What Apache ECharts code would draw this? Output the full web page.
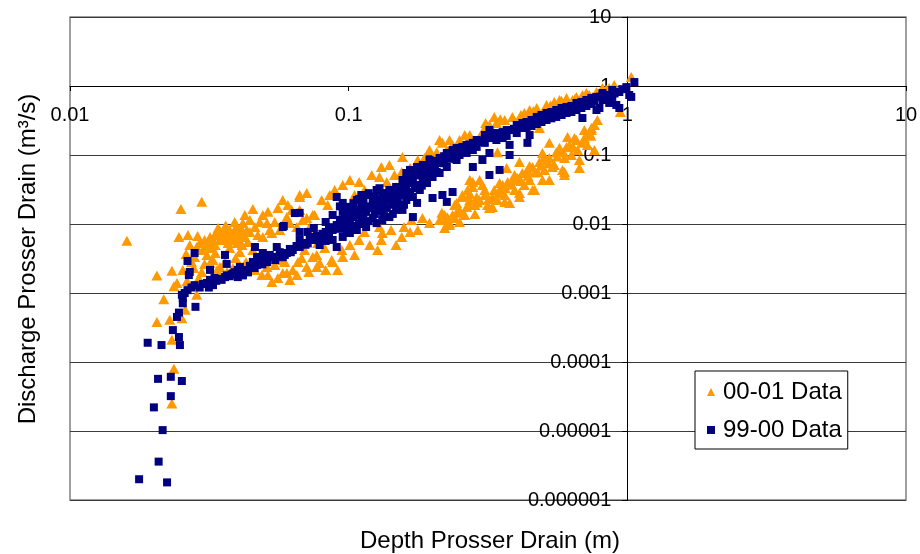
<!DOCTYPE html>
<html>
<head>
<meta charset="utf-8">
<script src="https://cdn.jsdelivr.net/npm/echarts@6/dist/echarts.min.js"></script>
<style>
html,body{margin:0;padding:0;background:#fff;}
#chart{width:920px;height:554px;}
</style>
</head>
<body>
<div id="chart"></div>
<script>
// ---- Data ----
const seriesNames = ['00-01 Data', '99-00 Data'];

const xTickValues = [0.01, 0.1, 1, 10];
const xTickLabels = ['0.01', '0.1', '1', '10'];
const yTickValues = [0.000001, 0.00001, 0.0001, 0.001, 0.01, 0.1, 1, 10];
const yTickLabels = ['0.000001', '0.00001', '0.0001', '0.001', '0.01', '0.1', '1', '10'];

const xTitle = 'Depth Prosser Drain (m)';
const yTitle = 'Discharge Prosser Drain (m³/s)';

// 00-01 Data (orange triangles): [depth m, discharge m3/s]
const data0001 = [
  [0.0160,0.0057],[0.0250,0.0165],[0.0297,0.021],[0.0246,0.0065],[0.0265,0.0069],[0.0205,0.0018],
  [0.0232,0.0021],[0.0242,0.0014],[0.0236,0.00125],[0.0217,0.00081],[0.0205,0.00038],[0.0228,0.00041],
  [0.0252,0.00043],[0.0232,0.00021],[0.0236,0.00008],[0.0232,0.000025],[0.0259,0.00057],[0.0285,0.00094],
  [0.0254,0.00216],[0.0273,0.00282],[0.0285,0.00464],[0.0292,0.00530],[0.0280,0.00333],[0.0300,0.00420],
  [0.0310,0.00356],[0.0297,0.00202],[0.0318,0.00272],[0.0326,0.00301],[0.0337,0.00216],[0.0345,0.00239],
  [0.0366,0.00202],[0.0384,0.00231],[0.0407,0.00239],[0.0326,0.00587],[0.0318,0.00649],[0.0337,0.00741],
  [0.0345,0.00587],[0.0354,0.00767],[0.0366,0.00649],[0.0374,0.00819],[0.0384,0.00587],[0.0397,0.00905],
  [0.0407,0.00693],[0.0417,0.0103],[0.0431,0.00819],[0.0397,0.00530],[0.0374,0.00449],[0.0407,0.00393],
  [0.0390,0.0107],[0.0453,0.0165],[0.0492,0.0135],[0.0461,0.00905],[0.0509,0.0103],[0.0530,0.00741],
  [0.0492,0.00649],[0.0580,0.0223],[0.0557,0.0171],[0.0600,0.0126],[0.0667,0.0263],[0.0707,0.0281],
  [0.0684,0.0114],[0.0652,0.00905],[0.0725,0.00905],[0.0743,0.0135],[0.0453,0.00420],[0.0480,0.00333],
  [0.0509,0.00239],[0.0530,0.00144],[0.0580,0.00195],[0.0630,0.00216],[0.0652,0.00182],[0.0678,0.00322],
  [0.0707,0.00239],[0.0743,0.00333],[0.0768,0.00239],
  [0.0304,0.00587],[0.0332,0.00496],[0.0351,0.00627],[0.0369,0.00530],[0.0380,0.00693],[0.0424,0.00649],
  [0.0442,0.00767],[0.0360,0.00876],[0.0340,0.00876],[0.0323,0.00449],[0.0312,0.00480],[0.0435,0.00549],
  [0.0414,0.00496],[0.0393,0.00767],[0.0472,0.00693],[0.0480,0.0107],[0.0442,0.0114],[0.0424,0.0135],
  [0.0513,0.0150],[0.0543,0.0107],[0.0566,0.00819],[0.0615,0.0103],[0.0625,0.0160],[0.0605,0.0189],
  [0.0521,0.00819],[0.0287,0.00670],[0.0269,0.00496],[0.0261,0.00368],[0.0278,0.00231],[0.0290,0.00165],
  [0.0304,0.00264],[0.0263,0.00149],[0.0332,0.00380],[0.0360,0.00282],[0.0393,0.00322],[0.0428,0.00282],
  [0.0461,0.00216],[0.0488,0.00182],[0.0543,0.00255],[0.0590,0.00282],[0.0615,0.00154],[0.0557,0.00165],
  [0.0513,0.00182],[0.0657,0.00282],[0.0695,0.00420],[0.0719,0.00202],
  [0.0330,0.0068],[0.0350,0.0071],[0.0358,0.0060],[0.0372,0.0075],[0.0388,0.0080],[0.0400,0.0062],
  [0.0412,0.0085],[0.0345,0.0080],[0.0362,0.0095],[0.0315,0.0055],
  [0.0667,0.0246],[0.0952,0.0368],[0.101,0.0434],[0.121,0.0513],[0.129,0.0480],[0.131,0.0670],
  [0.140,0.0716],[0.137,0.0406],[0.148,0.0344],[0.155,0.0568],[0.156,0.0936],[0.217,0.150],
  [0.0755,0.0135],[0.0707,0.0122],[0.0667,0.0160],[0.0743,0.00649],[0.0707,0.00530],[0.0787,0.00272],
  [0.0869,0.00301],[0.0952,0.00333],[0.0945,0.00420],[0.127,0.00420],[0.131,0.00587],[0.132,0.00741],
  [0.155,0.00649],[0.158,0.00905],[0.177,0.00819],[0.184,0.0122],[0.195,0.0103],[0.177,0.0847],
  [0.207,0.110],[0.236,0.140],[0.265,0.150],[0.295,0.182],[0.313,0.208],[0.320,0.272],
  [0.339,0.291],[0.342,0.110],[0.129,0.00905],[0.0876,0.00282],[0.0768,0.00356],[0.0600,0.00195],
  [0.0580,0.00301],[0.0566,0.00420],
  [0.0800,0.0223],[0.0855,0.0263],[0.0891,0.0311],[0.0841,0.0189],[0.109,0.0406],[0.114,0.0311],
  [0.105,0.0263],[0.146,0.0513],[0.166,0.0648],[0.172,0.0513],[0.187,0.0905],[0.195,0.118],
  [0.225,0.118],[0.250,0.165],[0.272,0.195],[0.284,0.140],[0.101,0.00496],[0.109,0.00587],
  [0.105,0.00356],[0.114,0.00767],[0.119,0.00496],[0.142,0.00819],[0.148,0.00496],[0.166,0.00767],
  [0.168,0.0114],[0.0820,0.00449],[0.0774,0.00530],[0.0913,0.00216],[0.0827,0.00216],
  [0.212,0.0114],[0.230,0.0103],[0.244,0.0145],[0.265,0.0177],[0.295,0.0223],[0.328,0.0246],
  [0.348,0.0311],[0.387,0.0434],[0.420,0.0548],[0.457,0.0670],[0.513,0.0847],[0.556,0.110],
  [0.605,0.131],[0.657,0.165],[0.731,0.208],[0.762,0.272],[0.673,0.0847],[0.585,0.0607],
  [0.538,0.0670],[0.496,0.0434],[0.457,0.0311],[0.410,0.0281],[0.378,0.0202],[0.328,0.0177],
  [0.279,0.0344],[0.272,0.0434],[0.295,0.0434],[0.525,0.150],[0.496,0.107],[0.216,0.0145],
  [0.225,0.0114],[0.230,0.00967],[0.244,0.0202],[0.256,0.0246],[0.267,0.0311],[0.279,0.0406],
  [0.288,0.0246],[0.236,0.0135],
  [0.221,0.0135],[0.240,0.0122],[0.250,0.0160],[0.261,0.0135],[0.272,0.0223],[0.284,0.0189],
  [0.308,0.0263],[0.315,0.0189],[0.333,0.0311],[0.342,0.0223],[0.357,0.0368],[0.363,0.0263],
  [0.372,0.0406],[0.394,0.0311],[0.404,0.0464],[0.427,0.0368],[0.438,0.0607],[0.446,0.0434],
  [0.476,0.0568],[0.484,0.0792],[0.504,0.0607],[0.525,0.0905],[0.547,0.0716],[0.571,0.118],
  [0.595,0.0905],[0.620,0.140],[0.630,0.100],[0.663,0.118],[0.701,0.176],[0.719,0.140],
  [0.743,0.246],[0.781,0.322],
  [0.226,0.0125],[0.248,0.0150],[0.270,0.0190],[0.290,0.0205],[0.318,0.0230],[0.345,0.0280],
  [0.365,0.0330],[0.385,0.0370],[0.415,0.0420],[0.440,0.0500],[0.465,0.0560],[0.490,0.0700],
  [0.520,0.0750],[0.560,0.0950],[0.590,0.1100],[0.640,0.1300],[0.690,0.1500],[0.740,0.1900],
  [0.221,0.00876],[0.250,0.0107],[0.284,0.0140],[0.320,0.0171],[0.363,0.0209],[0.410,0.0246],
  [0.465,0.0311],[0.525,0.0434],[0.595,0.0513],[0.673,0.0648],[0.762,0.118],
  [0.240,0.0189],[0.272,0.0272],[0.308,0.0311],[0.348,0.0393],[0.394,0.0513],[0.446,0.0693],
  [0.504,0.0936],[0.571,0.127],[0.646,0.176],[0.701,0.230],
  [0.595,0.0568],[0.410,0.0792],[0.369,0.0648],[0.302,0.0368],[0.256,0.0263],[0.484,0.246],
  [0.212,0.165],[0.333,0.356],[0.387,0.356],[0.427,0.406],[0.473,0.480],[0.513,0.531],
  [0.547,0.587],[0.605,0.672],[0.657,0.694],[0.713,0.792],[0.775,0.819],[0.814,0.932],
  [1.033,1.35],[0.944,0.420],[0.401,0.291],[0.496,0.406],[0.435,0.272],[0.749,0.694],
  [0.636,0.627],[0.743,0.230],[0.610,0.182],[0.363,0.322],[0.308,0.246],[0.261,0.195],
  [0.230,0.165],[0.446,0.449],[0.571,0.627],[0.690,0.741],[0.861,0.932],[0.897,1.03],
  [0.310,0.290],[0.350,0.330],[0.415,0.380],[0.460,0.430],[0.530,0.520],[0.580,0.610],
  [0.650,0.660],[0.730,0.740],[0.840,0.880]
];

// 99-00 Data (navy squares): [depth m, discharge m3/s]
const data9900 = [
  [0.0177,2.0e-6],[0.0223,1.8e-6],[0.0208,3.6e-6],[0.0215,1.03e-5],[0.0200,2.2e-5],[0.0230,3.2e-5],
  [0.0207,5.7e-5],[0.0230,6.1e-5],[0.0252,5.3e-5],[0.0190,1.9e-4],[0.0213,1.76e-4],[0.0248,1.76e-4],
  [0.0246,2.3e-4],[0.0234,2.9e-4],[0.0242,4.5e-4],[0.0246,5.2e-4],[0.0282,6.3e-4],[0.0254,7.1e-4],
  [0.0252,9.4e-4],[0.0254,8.5e-4],
  [0.0258,1.0e-3],[0.0264,1.1e-3],[0.0273,1.2e-3],[0.0280,1.3e-3],[0.0292,1.2e-3],[0.0300,1.35e-3],
  [0.0310,1.4e-3],[0.0318,1.55e-3],[0.0326,1.3e-3],[0.0315,1.2e-3],[0.0335,1.5e-3],[0.0345,1.6e-3],
  [0.0360,1.7e-3],[0.0365,1.8e-3],[0.0374,1.75e-3],[0.0390,2.0e-3],[0.0384,1.9e-3],[0.0400,2.16e-3],
  [0.0400,1.7e-3],[0.0417,1.8e-3],[0.0435,2.0e-3],[0.0424,2.16e-3],[0.0442,2.47e-3],[0.0453,2.82e-3],
  [0.0480,3.01e-3],[0.0500,3.2e-3],[0.0510,2.8e-3],[0.0521,3.56e-3],[0.0566,3.9e-3],[0.0590,3.56e-3],
  [0.0615,4.35e-3],[0.0650,4.8e-3],[0.0684,5.3e-3],[0.0725,5.87e-3],[0.0770,6.7e-3],
  [0.0330,1.65e-3],[0.0350,1.55e-3],[0.0380,1.85e-3],[0.0410,2.0e-3],[0.0460,2.3e-3],[0.0490,2.6e-3],
  [0.0545,3.0e-3],[0.0580,3.3e-3],[0.0620,3.9e-3],[0.0700,5.0e-3],
  [0.0264,2.91e-3],[0.0280,3.8e-3],[0.0269,2.02e-3],[0.0267,1.82e-3],[0.0318,2.16e-3],[0.0360,3.56e-3],
  [0.0365,2.64e-3],[0.0461,4.64e-3],[0.0469,3.33e-3],[0.0469,2.55e-3],[0.0492,3.8e-3],[0.0534,3.33e-3],
  [0.0552,4.64e-3],[0.0580,9.05e-3],[0.0641,1.44e-2],[0.0600,3.8e-3],[0.0630,4.2e-3],[0.0585,9.35e-3],
  [0.0407,2.39e-3],[0.0417,1.82e-3],[0.0435,2.0e-3],[0.0384,1.9e-3],
  [0.0667,4.64e-3],[0.0667,5.87e-3],[0.0667,1.45e-2],[0.0667,7.67e-3],[0.0713,7.67e-3],[0.0713,5.3e-3],
  [0.0750,5.87e-3],[0.0750,8.76e-3],[0.0787,6.49e-3],[0.0787,4.96e-3],[0.0827,7.67e-3],[0.0827,5.68e-3],
  [0.0827,1.07e-2],[0.0876,5.87e-3],[0.0876,8.19e-3],[0.0876,1.35e-2],[0.0906,2.46e-2],[0.0906,4.64e-3],
  [0.0906,9.67e-3],[0.0952,6.49e-3],[0.0952,2.02e-2],[0.0952,1.03e-2],[0.0952,1.50e-2],[0.0985,1.77e-2],
  [0.0985,7.67e-3],[0.0985,1.22e-2],[0.101,7.41e-3],[0.101,1.60e-2],[0.101,1.14e-2],[0.1035,1.77e-2],
  [0.1035,9.35e-3],[0.107,8.19e-3],[0.107,2.23e-2],[0.107,1.35e-2],[0.111,1.07e-2],[0.111,1.89e-2],
  [0.111,2.63e-2],[0.1155,9.05e-3],[0.1155,2.63e-2],[0.1155,1.50e-2],[0.122,2.23e-2],[0.122,1.22e-2],
  [0.122,1.71e-2],[0.126,1.03e-2],[0.126,3.11e-2],[0.126,1.89e-2],[0.132,1.14e-2],[0.132,2.02e-2],
  [0.132,2.63e-2],[0.132,1.50e-2],[0.137,2.81e-2],[0.137,1.71e-2],[0.140,1.26e-2],[0.140,3.11e-2],
  [0.140,2.23e-2],[0.148,1.60e-2],[0.148,2.46e-2],[0.148,3.44e-2],[0.152,3.44e-2],[0.152,1.89e-2],
  [0.156,1.60e-2],[0.156,3.11e-2],[0.156,4.34e-2],[0.161,2.23e-2],[0.161,5.48e-2],[0.161,3.68e-2],
  [0.166,6.07e-2],[0.166,3.93e-2],[0.166,2.63e-2],[0.170,2.46e-2],[0.170,1.26e-2],[0.170,4.64e-2],
  [0.176,6.70e-2],[0.176,2.02e-2],[0.176,3.68e-2],[0.180,3.11e-2],[0.180,5.13e-2],[0.1845,7.16e-2],
  [0.1845,4.34e-2],[0.191,3.93e-2],[0.191,6.07e-2],[0.195,6.70e-2],[0.195,8.47e-2],[0.200,4.80e-2],
  [0.200,2.38e-2],[0.207,7.65e-2],[0.207,5.68e-2],[0.212,5.48e-2],[0.212,9.05e-2],[0.217,2.63e-2],
  [0.217,8.47e-2],[0.225,6.70e-2],[0.225,0.107],[0.225,2.09e-2],[0.236,2.91e-2],[0.236,9.36e-2],
  [0.236,0.118],[0.244,8.47e-2],[0.244,0.126],[0.250,0.126],[0.250,0.100],[0.265,0.107],
  [0.265,0.140],[0.279,0.150],[0.279,0.118],[0.279,6.70e-2],[0.288,0.131],[0.288,0.165],
  [0.302,0.154],[0.302,8.47e-2],[0.320,0.176],[0.320,0.230],[0.320,5.13e-2],[0.320,0.107],
  [0.339,0.208],[0.339,0.165],[0.348,6.07e-2],[0.369,0.230],[0.369,0.189],[0.378,0.100],
  [0.378,0.140],[0.387,0.230],[0.401,0.272],[0.401,0.208],[0.420,0.291],[0.435,0.301],
  [0.435,0.246],[0.438,0.150],[0.446,0.195],[0.473,0.356],[0.473,0.281],[0.513,0.406],
  [0.513,0.322],[0.556,0.449],[0.556,0.356],[0.605,0.497],[0.605,0.406],[0.657,0.568],
  [0.657,0.449],[0.690,0.344],[0.713,0.627],[0.713,0.513],[0.775,0.694],[0.775,0.449],
  [0.794,0.480],[0.814,0.792],[0.814,0.627],[0.861,0.568],[0.883,0.875],[0.883,0.694],
  [0.913,0.531],[0.936,0.480],[0.936,0.819],[0.992,0.964],[1.016,0.741],[1.06,1.14],[1.033,0.694],
  [0.453,0.322],[0.453,0.263],[0.492,0.380],[0.492,0.301],[0.534,0.420],[0.534,0.340],
  [0.581,0.480],[0.581,0.380],[0.630,0.513],[0.630,0.420],[0.684,0.587],[0.684,0.480],
  [0.743,0.672],[0.743,0.549],[0.840,0.741],[0.840,0.627],[0.308,0.195],[0.308,0.150],
  [0.256,0.131],[0.256,0.115],[0.357,0.215],[0.357,0.176],[0.410,0.246],[0.410,0.272],
  [0.0730,6.5e-3],[0.0805,7.2e-3],[0.0805,5.9e-3],[0.0850,9.0e-3],[0.0850,6.6e-3],[0.0930,8.5e-3],
  [0.0930,1.15e-2],[0.0930,1.8e-2],[0.0970,1.35e-2],[0.0970,9.0e-3],[0.104,1.25e-2],[0.104,1.5e-2],
  [0.104,2.0e-2],[0.109,1.0e-2],[0.109,1.6e-2],[0.109,2.3e-2],[0.113,1.25e-2],[0.113,2.1e-2],
  [0.118,1.1e-2],[0.118,1.8e-2],[0.118,2.8e-2],[0.124,1.4e-2],[0.124,2.5e-2],[0.129,1.6e-2],
  [0.129,2.2e-2],[0.129,3.3e-2],[0.134,1.3e-2],[0.134,2.3e-2],[0.144,1.4e-2],[0.144,1.9e-2],
  [0.144,2.8e-2],[0.150,2.2e-2],[0.150,3.0e-2],[0.158,1.9e-2],[0.158,2.6e-2],[0.158,3.8e-2],
  [0.164,2.9e-2],[0.164,4.6e-2],[0.173,3.3e-2],[0.173,5.8e-2],[0.183,3.6e-2],[0.183,5.5e-2],
  [0.188,4.8e-2],[0.188,6.6e-2],[0.198,5.6e-2],[0.198,7.4e-2],[0.204,6.3e-2],[0.204,8.2e-2],
  [0.220,7.6e-2],[0.220,9.6e-2],[0.230,8.8e-2],[0.230,0.103],[0.240,0.098],[0.240,0.112],
  [0.258,0.118],[0.272,0.128],[0.272,0.142],[0.295,0.160],[0.330,0.190],[0.360,0.205],
  [0.392,0.240],[0.425,0.270],[0.460,0.300],[0.520,0.370],[0.570,0.420],[0.645,0.500],
  [0.700,0.560],[0.760,0.610],[0.800,0.700],[0.900,0.780],[0.960,0.900]
];

// ---- Chart ----
function tickLabel(values, labels) {
  return function (v) {
    const e = Math.log10(v);
    for (let i = 0; i < values.length; i++) {
      if (Math.abs(Math.log10(values[i]) - e) < 0.01) return labels[i];
    }
    return '';
  };
}

const FONT = 'Liberation Sans, Arial, sans-serif';
const chart = echarts.init(document.getElementById('chart'), null, { renderer: 'canvas' });

const gridLeft = 70, gridTop = 17, gridRight = 14, gridBottom = 54;
const plotW = 920 - gridLeft - gridRight;
const plotH = 554 - gridTop - gridBottom;
// axis crossing: x-axis at y = 1 (6 of 7 decades up), y-axis at x = 1 (2 of 3 decades right)
const xAxisOffset = -plotH * (6 / 7);
const yAxisOffset = -plotW * (2 / 3);

chart.setOption({
  animation: false,
  backgroundColor: '#ffffff',
  grid: {
    left: gridLeft, right: gridRight, top: gridTop, bottom: gridBottom,
    show: true, borderColor: '#808080', borderWidth: 1.5, backgroundColor: 'transparent',
    containLabel: false, outerBoundsMode: 'none'
  },
  legend: {
    data: seriesNames,
    orient: 'vertical',
    left: 695, top: 371,
    padding: [9, 6, 7, 12],
    itemGap: 14,
    itemWidth: 8, itemHeight: 8,
    backgroundColor: '#ffffff',
    borderColor: '#000000', borderWidth: 1,
    textStyle: { fontFamily: FONT, fontSize: 24, color: '#000', padding: [0, 0, 0, 3] },
    selectedMode: false
  },
  xAxis: {
    type: 'log', logBase: 10, min: 0.01, max: 10, splitNumber: 3,
    position: 'bottom', offset: xAxisOffset,
    axisLine: { show: true, onZero: false, lineStyle: { color: '#000', width: 1 } },
    axisTick: { show: true, length: 5, lineStyle: { color: '#000' } },
    minorTick: { show: false },
    axisLabel: {
      show: true, margin: 19, fontFamily: FONT, fontSize: 20, color: '#000',
      showMinLabel: true, showMaxLabel: true, hideOverlap: false,
      formatter: tickLabel(xTickValues, xTickLabels)
    },
    splitLine: { show: false }
  },
  yAxis: {
    type: 'log', logBase: 10, min: 0.000001, max: 10, splitNumber: 7,
    position: 'left', offset: yAxisOffset,
    axisLine: { show: true, onZero: false, lineStyle: { color: '#000', width: 1 } },
    axisTick: { show: true, length: 5, lineStyle: { color: '#000' } },
    axisLabel: {
      show: true, margin: 16, fontFamily: FONT, fontSize: 20, color: '#000',
      showMinLabel: true, showMaxLabel: true, hideOverlap: false,
      formatter: tickLabel(yTickValues, yTickLabels)
    },
    splitLine: { show: true, lineStyle: { color: '#3a3a3a', width: 1 } }
  },
  graphic: [
    {
      type: 'text', x: 490, y: 541,
      style: { text: xTitle, fontFamily: FONT, fontSize: 24, fill: '#000', align: 'center', verticalAlign: 'middle' }
    },
    {
      type: 'text', x: 28, y: 259, rotation: Math.PI / 2,
      style: { text: yTitle, fontFamily: FONT, fontSize: 24, fill: '#000', align: 'center', verticalAlign: 'middle' }
    }
  ],
  series: [
    {
      name: seriesNames[0], type: 'scatter', data: data0001,
      symbol: 'triangle', symbolSize: [11, 10],
      itemStyle: { color: '#FF9900', opacity: 1 },
      emphasis: { disabled: true }, z: 2
    },
    {
      name: seriesNames[1], type: 'scatter', data: data9900,
      symbol: 'rect', symbolSize: 8,
      itemStyle: { color: '#000080', opacity: 1 },
      emphasis: { disabled: true }, z: 3
    }
  ]
});
</script>
</body>
</html>
